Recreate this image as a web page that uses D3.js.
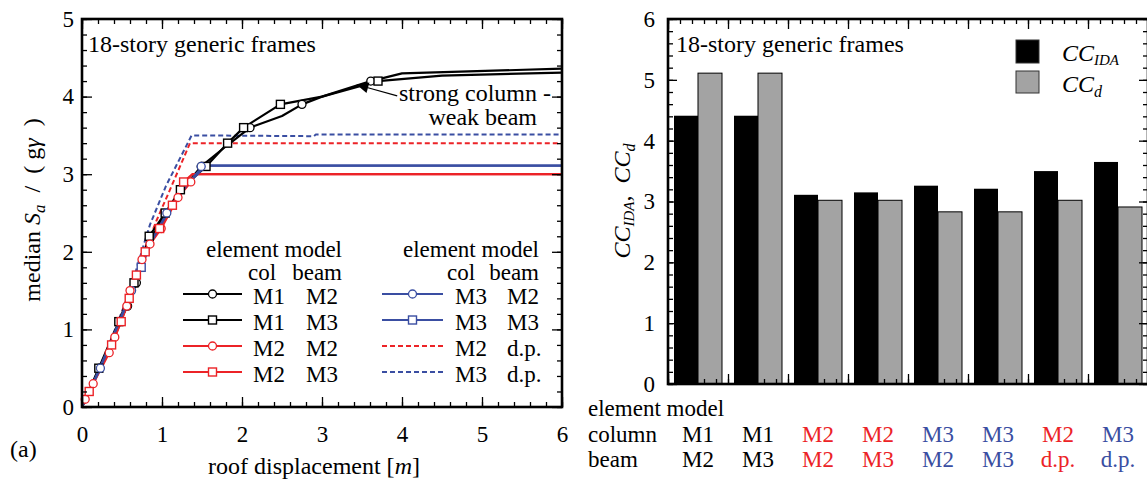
<!DOCTYPE html>
<html>
<head>
<meta charset="utf-8">
<script src="https://cdn.jsdelivr.net/npm/d3@7"></script>
<style>
  body { margin: 0; background: #fff; }
  svg { display: block; font-family: "Liberation Serif", "Times New Roman", serif; }
</style>
</head>
<body>
<div id="chart"></div>
<script>
// ---------- left panel: median Sa/(g gamma) vs roof displacement ----------
// [roof displacement (m), median Sa]
const m1m2Line = [[0,0],[0.1,0.22],[0.22,0.5],[0.36,0.8],[0.47,1.1],[0.57,1.3],[0.68,1.6],[0.8,2.0],[0.88,2.2],[1.0,2.42],[1.2,2.74],[1.49,3.1],[1.8,3.36],[2.1,3.6],[2.5,3.75],[2.75,3.9],[3.0,4.0],[3.61,4.2],[4.0,4.3],[6.0,4.36]];
const m1m2Marks = [[0.22,0.5],[0.57,1.3],[0.68,1.6],[1.49,3.1],[2.1,3.6],[2.75,3.9],[3.61,4.2]];
const m1m3Line = [[0,0],[0.21,0.5],[0.46,1.1],[0.65,1.6],[0.84,2.2],[1.04,2.5],[1.23,2.8],[1.55,3.1],[1.82,3.4],[2.02,3.6],[2.48,3.9],[3.0,4.0],[3.7,4.2],[4.5,4.27],[6.0,4.31]];
const m1m3Marks = [[0.21,0.5],[0.46,1.1],[0.65,1.6],[0.84,2.2],[1.04,2.5],[1.23,2.8],[1.55,3.1],[1.82,3.4],[2.02,3.6],[2.48,3.9],[3.7,4.2]];
const m2m2Line = [[0,0],[0.04,0.1],[0.14,0.3],[0.34,0.7],[0.41,0.9],[0.56,1.3],[0.6,1.5],[0.75,1.9],[0.85,2.1],[0.99,2.3],[1.2,2.7],[1.36,2.9],[1.42,3.0],[6.0,3.0]];
const m2m2Marks = [[0.04,0.1],[0.14,0.3],[0.34,0.7],[0.41,0.9],[0.56,1.3],[0.6,1.5],[0.75,1.9],[0.85,2.1],[0.99,2.3],[1.2,2.7],[1.36,2.9]];
const m2m3Line = [[0,0],[0.09,0.2],[0.37,0.8],[0.49,1.1],[0.59,1.4],[0.68,1.7],[0.79,2.0],[0.97,2.3],[1.13,2.6],[1.27,2.9],[1.38,3.0],[6.0,3.0]];
const m2m3Marks = [[0.09,0.2],[0.37,0.8],[0.49,1.1],[0.59,1.4],[0.68,1.7],[0.79,2.0],[0.97,2.3],[1.13,2.6],[1.27,2.9]];
const m3m2Line = [[0,0],[0.23,0.5],[0.62,1.5],[0.85,2.1],[1.06,2.5],[1.3,2.85],[1.49,3.08],[1.55,3.11],[6.0,3.11]];
const m3m2Marks = [[0.23,0.5],[0.62,1.5],[1.06,2.5],[1.49,3.1]];
const m3m3Line = [[0,0],[0.2,0.45],[0.55,1.3],[0.74,1.8],[0.9,2.2],[1.1,2.55],[1.3,2.85],[1.55,3.11],[6.0,3.11]];
const m3m3Marks = [[0.74,1.8]];
const m2dpLine = [[0,0],[0.35,0.8],[0.6,1.5],[0.78,2.0],[0.93,2.4],[1.1,2.8],[1.35,3.4],[6.0,3.4]];
const m3dpLine = [[0,0],[0.3,0.7],[0.6,1.5],[0.76,2.05],[0.85,2.35],[1.05,2.85],[1.37,3.5],[2.9,3.49],[2.92,3.51],[6.0,3.51]];
const arrowTip = [3.43, 4.155];
const arrowTail = [3.94, 4.01];

const xTicksL = [0, 1, 2, 3, 4, 5, 6];
const yTicksL = [0, 1, 2, 3, 4, 5];

// ---------- right panel: collapse capacity ----------
const colModels = ['M1', 'M1', 'M2', 'M2', 'M3', 'M3', 'M2', 'M3'];
const beamModels = ['M2', 'M3', 'M2', 'M3', 'M2', 'M3', 'd.p.', 'd.p.'];
const ccIDA = [4.41, 4.41, 3.11, 3.15, 3.26, 3.21, 3.50, 3.65];
const ccD = [5.11, 5.11, 3.02, 3.02, 2.83, 2.83, 3.02, 2.91];
const yTicksR = [0, 1, 2, 3, 4, 5, 6];

const RED = '#ec2327';
const BLUE = '#3a4ea2';
const modelColor = { M1: '#000', M2: RED, M3: BLUE };

const W = 1147, H = 479;
const svg = d3.select('#chart').append('svg').attr('width', W).attr('height', H);
svg.append('rect').attr('width', W).attr('height', H).attr('fill', '#fff');

// frame + inward ticks on all four sides
function drawFrame(xs, ys, o) {
  const [x0, x1] = xs.range();
  const [y0, y1] = ys.range();
  const g = svg.append('g');
  const add = (axis, tx, ty) => {
    const a = g.append('g').attr('transform', `translate(${tx},${ty})`).call(axis);
    a.attr('font-family', null).attr('font-size', 23);
    a.select('.domain').remove();
    a.selectAll('line').attr('stroke', '#000').attr('stroke-width', 1.3);
    a.selectAll('text').attr('fill', '#000');
    return a;
  };
  // minor
  add(d3.axisBottom(xs).tickValues(o.xMinor).tickSize(-o.minLen).tickFormat(''), 0, y0);
  add(d3.axisTop(xs).tickValues(o.xMinor).tickSize(-o.minLen).tickFormat(''), 0, y1);
  add(d3.axisLeft(ys).tickValues(o.yMinor).tickSize(-o.minLen).tickFormat(''), x0, 0);
  add(d3.axisRight(ys).tickValues(o.yMinor).tickSize(-o.minLen).tickFormat(''), x1, 0);
  // major
  const xb = d3.axisBottom(xs).tickValues(o.xMajor).tickSize(-o.majLen).tickPadding(o.xPad)
    .tickFormat(o.xLabels ? d3.format('d') : '');
  add(xb, 0, y0);
  add(d3.axisTop(xs).tickValues(o.xMajor).tickSize(-o.majLen).tickFormat(''), 0, y1);
  add(d3.axisLeft(ys).tickValues(o.yMajor).tickSize(-o.yMajLen).tickPadding(o.yPad).tickFormat(d3.format('d')), x0, 0);
  add(d3.axisRight(ys).tickValues(o.yMajor).tickSize(-o.yMajLen).tickFormat(''), x1, 0);
  g.append('rect')
    .attr('x', x0).attr('y', y1).attr('width', x1 - x0).attr('height', y0 - y1)
    .attr('fill', 'none').attr('stroke', '#000').attr('stroke-width', 2.6);
}

// ================= LEFT PANEL =================
const xL = d3.scaleLinear().domain([0, 6]).range([82, 562]);
const yL = d3.scaleLinear().domain([0, 5]).range([407, 19]);
const lineL = d3.line().x(d => xL(d[0])).y(d => yL(d[1]));

// lines first (black, red, blue, dashed), then markers on top
const curves = [
  { pts: m3dpLine, color: BLUE, dash: '5,3' },
  { pts: m2dpLine, color: RED, dash: '5,3' },
  { pts: m1m2Line, marks: m1m2Marks, shape: 'ci', color: '#000' },
  { pts: m1m3Line, marks: m1m3Marks, shape: 'sq', color: '#000' },
  { pts: m2m2Line, marks: m2m2Marks, shape: 'ci', color: RED },
  { pts: m2m3Line, marks: m2m3Marks, shape: 'sq', color: RED },
  { pts: m3m2Line, marks: m3m2Marks, shape: 'ci', color: BLUE },
  { pts: m3m3Line, marks: m3m3Marks, shape: 'sq', color: BLUE }
];
const markOrder = [2, 3, 6, 7, 4, 5];

const plotL = svg.append('g');
function marker(g, shape, color, cx, cy) {
  if (shape === 'ci') {
    g.append('circle').attr('cx', cx).attr('cy', cy).attr('r', 4)
      .attr('fill', '#fff').attr('stroke', color).attr('stroke-width', 1.3);
  } else {
    g.append('rect').attr('x', cx - 4).attr('y', cy - 4).attr('width', 8).attr('height', 8)
      .attr('fill', '#fff').attr('stroke', color).attr('stroke-width', 1.4);
  }
}
curves.forEach(c => {
  plotL.append('path').attr('d', lineL(c.pts)).attr('fill', 'none')
    .attr('stroke', c.color).attr('stroke-width', c.dash ? 2 : 2.2)
    .attr('stroke-dasharray', c.dash || null).attr('stroke-linejoin', 'round');
});
markOrder.forEach(k => {
  const c = curves[k];
  c.marks.forEach(p => marker(plotL, c.shape, c.color, xL(p[0]), yL(p[1])));
});

// annotation arrow
const tip = [xL(arrowTip[0]), yL(arrowTip[1])];
const tail = [xL(arrowTail[0]), yL(arrowTail[1])];
const ang = Math.atan2(tail[1] - tip[1], tail[0] - tip[0]);
const hl = 12, hw = 5.5;
const bx = tip[0] + hl * Math.cos(ang), by = tip[1] + hl * Math.sin(ang);
plotL.append('path')
  .attr('d', `M${tip[0]},${tip[1]}L${bx - hw * Math.sin(ang)},${by + hw * Math.cos(ang)}L${bx + hw * Math.sin(ang)},${by - hw * Math.cos(ang)}Z`)
  .attr('fill', '#000');
plotL.append('line').attr('x1', bx).attr('y1', by).attr('x2', tail[0]).attr('y2', tail[1])
  .attr('stroke', '#000').attr('stroke-width', 1.2);
plotL.append('text').attr('x', 399).attr('y', 101).attr('font-size', 24).text('strong column -');
plotL.append('text').attr('x', 537).attr('y', 125).attr('font-size', 24).attr('text-anchor', 'end').text('weak beam');

drawFrame(xL, yL, {
  xMajor: xTicksL, xMinor: d3.range(0, 6.01, 0.2), yMajor: yTicksL, yMinor: d3.range(0, 5.01, 0.2),
  majLen: 10, yMajLen: 10, minLen: 5, xPad: 19, yPad: 8, xLabels: true
});

svg.append('text').attr('x', 88).attr('y', 52).attr('font-size', 24).text('18-story generic frames');

// legend (two blocks)
const legLeft = [
  { col: 'M1', beam: 'M2', color: '#000', shape: 'ci' },
  { col: 'M1', beam: 'M3', color: '#000', shape: 'sq' },
  { col: 'M2', beam: 'M2', color: RED, shape: 'ci' },
  { col: 'M2', beam: 'M3', color: RED, shape: 'sq' }
];
const legRight = [
  { col: 'M3', beam: 'M2', color: BLUE, shape: 'ci' },
  { col: 'M3', beam: 'M3', color: BLUE, shape: 'sq' },
  { col: 'M2', beam: 'd.p.', color: RED, dash: '5,3' },
  { col: 'M3', beam: 'd.p.', color: BLUE, dash: '5,3' }
];
const legRowY = [294, 320, 346, 372];
function legendBlock(items, lx0, lx1, colX, beamX, headEnd, colHeadX) {
  const g = svg.append('g').attr('font-size', 23);
  g.append('text').attr('x', headEnd).attr('y', 257).attr('text-anchor', 'end').text('element model');
  g.append('text').attr('x', colHeadX).attr('y', 280).text('col');
  g.append('text').attr('x', headEnd).attr('y', 280).attr('text-anchor', 'end').text('beam');
  items.forEach((it, i) => {
    const y = legRowY[i];
    g.append('line').attr('x1', lx0).attr('x2', lx1).attr('y1', y).attr('y2', y)
      .attr('stroke', it.color).attr('stroke-width', 2.2).attr('stroke-dasharray', it.dash || null);
    if (it.shape) marker(g, it.shape, it.color, (lx0 + lx1) / 2, y);
    g.append('text').attr('x', colX).attr('y', y + 10).text(it.col);
    g.append('text').attr('x', beamX).attr('y', y + 10).text(it.beam);
  });
}
legendBlock(legLeft, 183, 242, 253, 306, 342, 248);
legendBlock(legRight, 382, 443, 455, 507, 539, 447);

// axis titles
const NB = '\u00a0';
const ylab = svg.append('text').attr('transform', 'translate(40,210) rotate(-90)')
  .attr('text-anchor', 'middle').attr('font-size', 24);
ylab.append('tspan').text('median' + NB);
ylab.append('tspan').attr('font-style', 'italic').text('S');
ylab.append('tspan').attr('font-style', 'italic').attr('font-size', 17).attr('dy', 5).text('a');
ylab.append('tspan').attr('dy', -5).text(NB + NB + '/' + NB + NB + '(' + NB + 'g');
ylab.append('tspan').attr('font-style', 'italic').text('γ');
ylab.append('tspan').text(NB + NB + ')');

const xlab = svg.append('text').attr('x', 314).attr('y', 474).attr('text-anchor', 'middle').attr('font-size', 24);
xlab.append('tspan').text('roof displacement [');
xlab.append('tspan').attr('font-style', 'italic').text('m');
xlab.append('tspan').text(']');
svg.append('text').attr('x', 10).attr('y', 457).attr('font-size', 24).text('(a)');

// ================= RIGHT PANEL =================
const xR = d3.scaleLinear().domain([0, 8]).range([668, 1148]);
const yR = d3.scaleLinear().domain([0, 6]).range([384, 19]);
const groupIdx = d3.range(colModels.length);
const xBand = d3.scaleBand().domain(groupIdx).range(xR.range()).paddingInner(0.2).paddingOuter(0.1);
const xSub = d3.scaleBand().domain(['ida', 'd']).range([0, xBand.bandwidth()]);

const bars = svg.append('g');
groupIdx.forEach(i => {
  bars.append('rect').attr('x', xBand(i) + xSub('ida')).attr('y', yR(ccIDA[i]))
    .attr('width', xSub.bandwidth()).attr('height', yR(0) - yR(ccIDA[i]))
    .attr('fill', '#000');
  bars.append('rect').attr('x', xBand(i) + xSub('d')).attr('y', yR(ccD[i]))
    .attr('width', xSub.bandwidth()).attr('height', yR(0) - yR(ccD[i]))
    .attr('fill', '#a3a3a3').attr('stroke', '#000').attr('stroke-width', 1);
});

drawFrame(xR, yR, {
  xMajor: d3.range(0, 9), xMinor: d3.range(0, 8.01, 0.2), yMajor: yTicksR, yMinor: d3.range(0, 6.01, 0.2),
  majLen: 10, yMajLen: 9, minLen: 5, xPad: 0, yPad: 13, xLabels: false
});

svg.append('text').attr('x', 676).attr('y', 52).attr('font-size', 24).text('18-story generic frames');

// legend
svg.append('rect').attr('x', 1016).attr('y', 40).attr('width', 23).attr('height', 23)
  .attr('fill', '#000').attr('stroke', '#333');
svg.append('rect').attr('x', 1016).attr('y', 71).attr('width', 23).attr('height', 22)
  .attr('fill', '#a3a3a3').attr('stroke', '#333');
const l1 = svg.append('text').attr('x', 1062).attr('y', 61).attr('font-size', 24).attr('font-style', 'italic');
l1.append('tspan').text('CC');
l1.append('tspan').attr('font-size', 15).attr('dy', 4).text('IDA');
const l2 = svg.append('text').attr('x', 1062).attr('y', 92).attr('font-size', 24).attr('font-style', 'italic');
l2.append('tspan').text('CC');
l2.append('tspan').attr('font-size', 16).attr('dy', 5).text('d');

// y title
const ylabR = svg.append('text').attr('transform', 'translate(630,201) rotate(-90)')
  .attr('text-anchor', 'middle').attr('font-size', 24);
ylabR.append('tspan').attr('font-style', 'italic').text('CC');
ylabR.append('tspan').attr('font-style', 'italic').attr('font-size', 15).attr('dy', 4).text('IDA');
ylabR.append('tspan').attr('dy', -4).text(',' + NB + NB);
ylabR.append('tspan').attr('font-style', 'italic').text('CC');
ylabR.append('tspan').attr('font-style', 'italic').attr('font-size', 16).attr('dy', 5).text('d');

// element model table
const tbl = svg.append('g').attr('font-size', 23);
tbl.append('text').attr('x', 588).attr('y', 416).text('element model');
tbl.append('text').attr('x', 588).attr('y', 442).text('column');
tbl.append('text').attr('x', 588).attr('y', 467).text('beam');
groupIdx.forEach(i => {
  const cx = xBand(i) + xBand.bandwidth() / 2;
  tbl.append('text').attr('x', cx).attr('y', 442).attr('text-anchor', 'middle')
    .attr('fill', modelColor[colModels[i]]).text(colModels[i]);
  tbl.append('text').attr('x', cx).attr('y', 467).attr('text-anchor', 'middle')
    .attr('fill', modelColor[colModels[i]]).text(beamModels[i]);
});
</script>
</body>
</html>
